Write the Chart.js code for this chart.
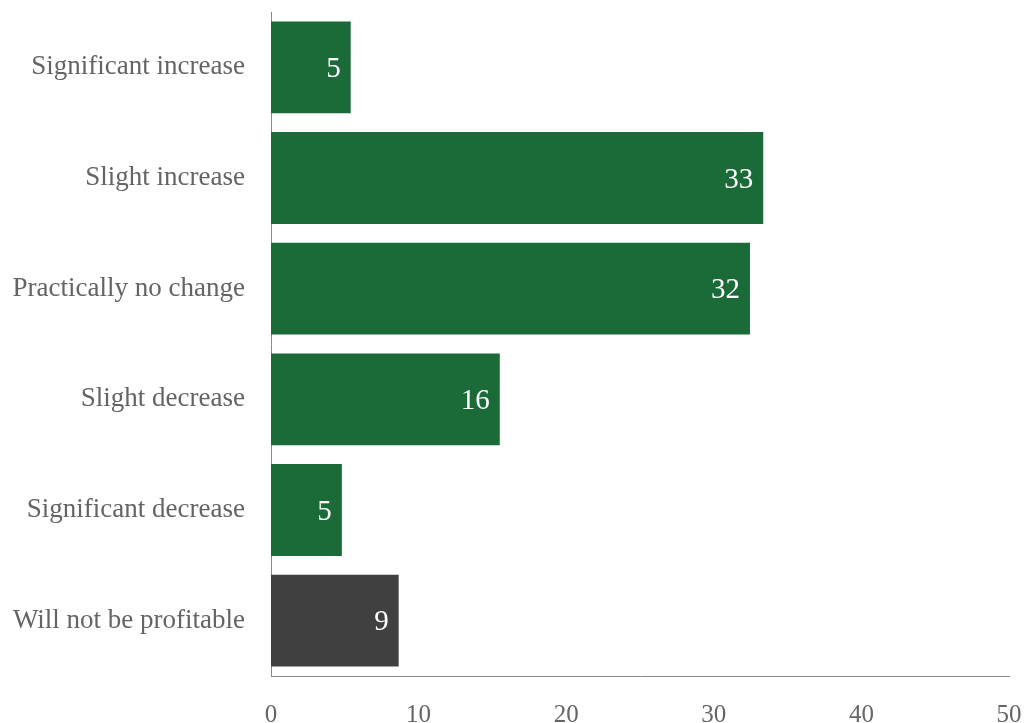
<!DOCTYPE html>
<html>
<head>
<meta charset="utf-8">
<script src="https://cdn.jsdelivr.net/npm/chart.js@4/dist/chart.umd.min.js"></script>
<style>
  html, body { margin: 0; padding: 0; background: #fff; }
  #wrap { width: 1027px; height: 723px; }
</style>
</head>
<body>
<div id="wrap"><canvas id="profitChart" width="1027" height="723"></canvas></div>
<script>
const categories = ['Significant increase', 'Slight increase', 'Practically no change', 'Slight decrease', 'Significant decrease', 'Will not be profitable'];
const shares = [5.4, 33.35, 32.45, 15.5, 4.8, 8.65];
const barColors = ['#1a6b38', '#1a6b38', '#1a6b38', '#1a6b38', '#1a6b38', '#404040'];
const xTicks = [0, 10, 20, 30, 40, 50];

const serif = "'Liberation Serif', 'DejaVu Serif', serif";

// white value labels at the end of each bar
const valueLabels = {
    id: 'valueLabels',
    afterDatasetsDraw(chart) {
        const ctx = chart.ctx;
        const meta = chart.getDatasetMeta(0);
        ctx.save();
        ctx.fillStyle = '#ffffff';
        ctx.font = '29px ' + serif;
        ctx.textAlign = 'right';
        ctx.textBaseline = 'middle';
        meta.data.forEach((bar, i) => {
            ctx.fillText(Math.round(shares[i]), bar.x - 10, bar.y + 2);
        });
        ctx.restore();
    }
};

new Chart(document.getElementById('profitChart'), {
    type: 'bar',
    data: {
        labels: categories,
        datasets: [{
            data: shares,
            backgroundColor: barColors,
            borderWidth: 0,
            barPercentage: 0.83,
            categoryPercentage: 1
        }]
    },
    options: {
        indexAxis: 'y',
        responsive: false,
        animation: false,
        layout: { padding: { top: 12, right: 18, left: 0, bottom: 0 } },
        plugins: {
            legend: { display: false },
            tooltip: { enabled: false }
        },
        scales: {
            x: {
                min: 0,
                max: 50,
                afterBuildTicks: axis => { axis.ticks = xTicks.map(v => ({ value: v })); },
                grid: { display: false, drawTicks: false },
                border: { display: true, color: '#8a8a8a', width: 1 },
                ticks: { color: '#666666', padding: 24, font: { family: serif, size: 25 } },
                afterFit: axis => {
                    axis.height = 47;
                    axis.paddingLeft = 0;
                    axis.paddingRight = 0;
                }
            },
            y: {
                grid: { display: false, drawTicks: false },
                border: { display: true, color: '#8a8a8a', width: 1 },
                ticks: { color: '#646464', padding: 26, font: { family: serif, size: 27 } },
                afterFit: axis => {
                    axis.width = 271;
                    axis.paddingTop = 0;
                    axis.paddingBottom = 0;
                }
            }
        }
    },
    plugins: [valueLabels]
});
</script>
</body>
</html>
